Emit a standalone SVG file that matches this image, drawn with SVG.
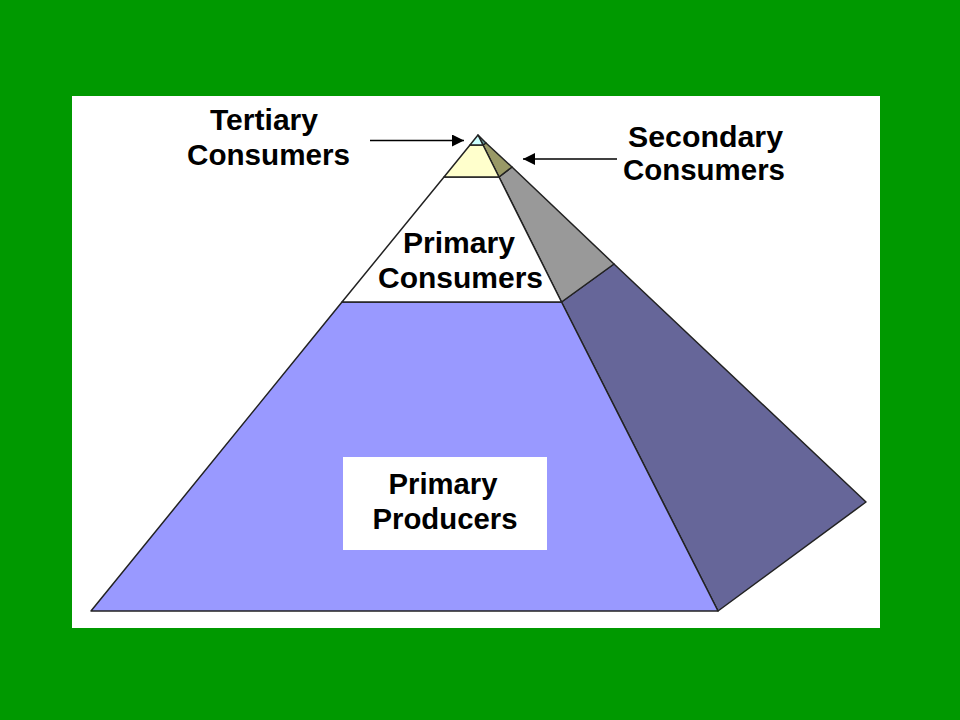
<svg xmlns="http://www.w3.org/2000/svg" width="960" height="720" viewBox="0 0 960 720">
<defs>
<style>
.face{stroke:#222;stroke-width:1.5;stroke-linejoin:round}
.lbl{font-family:"Liberation Sans",Arial,sans-serif;font-weight:bold;font-size:29px;fill:#000;text-anchor:middle}
.arr{stroke:#000;stroke-width:1.5;fill:none}
</style>
<marker id="ah" viewBox="0 0 10 10" refX="10" refY="5" markerWidth="10" markerHeight="8" markerUnits="strokeWidth" orient="auto">
<path d="M0,0 L10,5 L0,10 z" fill="#000"/>
</marker>
</defs>
<rect x="0" y="0" width="960" height="720" fill="#009900"/>
<rect x="72" y="96" width="808" height="532" fill="#ffffff"/>
<g id="pyramid">
<polygon class="face" points="561.5,302 718,611 866,502 614,264" fill="#666699"/>
<polygon class="face" points="499,177 561.5,302 614,264 512,167" fill="#999999"/>
<polygon class="face" points="483,145 499,177 512,167 486,143" fill="#999966"/>
<polygon class="face" points="478,135 483,145 486,143" fill="#669999"/>
<polygon class="face" points="342,302 561.5,302 718,611 91,611" fill="#9999ff"/>
<polygon class="face" points="444,177 499,177 561.5,302 342,302" fill="#ffffff"/>
<polygon class="face" points="470,145 483,145 499,177 444,177" fill="#ffffcc"/>
<polygon class="face" points="478,135 470,145 483,145" fill="#ccffff"/>
</g>
<g id="primary-producers">
<rect x="343" y="457" width="204" height="93" fill="#ffffff"/>
<text class="lbl" x="443" y="494" textLength="109" lengthAdjust="spacingAndGlyphs">Primary</text>
<text class="lbl" x="445" y="529" textLength="145" lengthAdjust="spacingAndGlyphs">Producers</text>
</g>
<g id="primary-consumers">
<text class="lbl" x="459" y="253" textLength="112" lengthAdjust="spacingAndGlyphs">Primary</text>
<text class="lbl" x="460.5" y="288" textLength="165" lengthAdjust="spacingAndGlyphs">Consumers</text>
</g>
<g id="tertiary-consumers">
<text class="lbl" x="264" y="130" textLength="108" lengthAdjust="spacingAndGlyphs">Tertiary</text>
<text class="lbl" x="268.5" y="165" textLength="163" lengthAdjust="spacingAndGlyphs">Consumers</text>
</g>
<g id="secondary-consumers">
<text class="lbl" x="705.5" y="147" textLength="155" lengthAdjust="spacingAndGlyphs">Secondary</text>
<text class="lbl" x="704" y="180" textLength="162" lengthAdjust="spacingAndGlyphs">Consumers</text>
</g>
<g id="connectors">
<line class="arr" x1="370" y1="140.5" x2="464" y2="140.5" marker-end="url(#ah)"/>
<line class="arr" x1="617" y1="159" x2="523" y2="159" marker-end="url(#ah)"/>
</g>
</svg>
